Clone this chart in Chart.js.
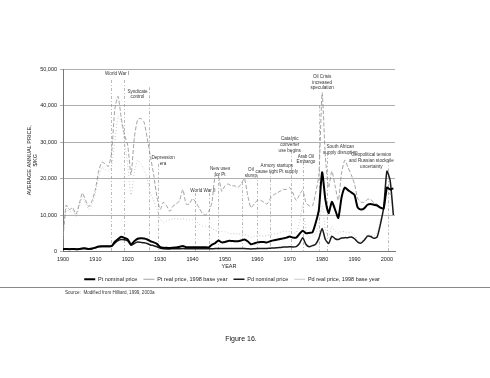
<!DOCTYPE html>
<html>
<head>
<meta charset="utf-8">
<script src="https://cdn.jsdelivr.net/npm/chart.js@4/dist/chart.umd.min.js"></script>
<style>
  html, body { margin: 0; padding: 0; background: #fff; }
  #wrap { position: absolute; left: 0; top: 0; width: 490px; height: 378px; }
</style>
</head>
<body>
<div id="wrap"><canvas id="priceChart" width="490" height="378"></canvas></div>
<script>
// Years on the x axis
const years = [
  1900, 1901, 1902, 1903, 1904, 1905, 1906, 1907, 1908, 1909,
  1910, 1911, 1912, 1913, 1914, 1915, 1916, 1917, 1918, 1919,
  1920, 1921, 1922, 1923, 1924, 1925, 1926, 1927, 1928, 1929,
  1930, 1931, 1932, 1933, 1934, 1935, 1936, 1937, 1938, 1939,
  1940, 1941, 1942, 1943, 1944, 1945, 1946, 1947, 1948, 1949,
  1950, 1951, 1952, 1953, 1954, 1955, 1956, 1957, 1958, 1959,
  1960, 1961, 1962, 1963, 1964, 1965, 1966, 1967, 1968, 1969,
  1970, 1971, 1972, 1973, 1974, 1975, 1976, 1977, 1978, 1979,
  1980, 1981, 1982, 1983, 1984, 1985, 1986, 1987, 1988, 1989,
  1990, 1991, 1992, 1993, 1994, 1995, 1996, 1997, 1998, 1999,
  2000, 2001, 2002
];

// $/kg
const ptNominal = [
  650, 660, 640, 700, 650, 700, 850, 850, 700, 800,
  1050, 1400, 1450, 1450, 1450, 1500, 2700, 3400, 4050, 3700,
  3300, 1900, 2800, 3500, 3600, 3550, 3300, 2800, 2500, 2100,
  1200, 1000, 1000, 950, 1050, 1100, 1300, 1500, 1150, 1150,
  1150, 1150, 1150, 1150, 1150, 1150, 1900, 2300, 3000, 2500,
  2600, 2900, 2900, 2800, 2800, 3000, 3300, 2800, 2000, 2200,
  2500, 2600, 2600, 2500, 2800, 3050, 3200, 3400, 3600, 3800,
  4100, 3800, 3800, 4800, 5700, 5000, 5100, 5200, 7800, 11500,
  21700, 14300, 10500, 13600, 11500, 9200, 14800, 17500, 16800, 16200,
  15500, 12000, 11500, 11800, 12800, 13000, 12800, 12600, 12000, 11800,
  17500, 17000, 17300
];

const ptReal = [
  4000, 12700, 11500, 12000, 10200, 13000, 16000, 14000, 12300, 14000,
  17000, 22000, 24500, 24000, 23300, 27000, 39000, 42500, 36500, 32000,
  29000, 21000, 31000, 36000, 36500, 35500, 31000, 26000, 21000, 15000,
  11500, 13500, 12500, 11000, 12500, 13000, 14000, 17000, 13000, 13000,
  14500, 13500, 12000, 10500, 10000, 11000, 13500, 21000, 20500, 16500,
  18000, 18500, 18000, 18000, 17500, 18500, 20000, 15500, 12000, 13000,
  14000, 14000, 13500, 13000, 14500, 15500, 16000, 16500, 17000, 17000,
  17500, 16000, 14000, 15500, 16800, 13500, 12500, 12500, 16000, 21000,
  43500, 26000, 17500, 22000, 18000, 14000, 21500, 25000, 23000, 21000,
  18500, 14500, 13500, 13500, 14300, 14300, 13300, 13000, 12000, 11800,
  16600, 15700, 15500
];

const pdNominal = [
  600, 620, 600, 650, 620, 650, 800, 800, 650, 750,
  1000, 1300, 1400, 1400, 1400, 1450, 2300, 3000, 3300, 3200,
  2900, 1700, 2200, 2600, 2500, 2400, 2200, 1800, 1600, 1300,
  900, 750, 700, 700, 750, 750, 750, 800, 750, 750,
  750, 750, 750, 750, 750, 750, 750, 800, 800, 800,
  800, 800, 800, 800, 800, 800, 800, 750, 700, 750,
  800, 800, 800, 850, 900, 950, 1000, 1100, 1200, 1250,
  1300, 1250, 1350, 2200, 3800, 2000, 1300, 1600, 2000, 3600,
  6300, 3300, 2200, 4200, 3500, 3300, 3700, 3800, 3800, 4000,
  3500, 2600, 2300, 3100, 4200, 4100, 3600, 4000, 7500, 12000,
  22000, 19500, 10000
];

const pdReal = [
  3500, 11800, 10800, 11200, 9600, 12200, 15000, 13200, 11500, 13000,
  16000, 20500, 23000, 22500, 22000, 23500, 30000, 37000, 35500, 30000,
  23500, 15500, 21500, 25000, 24000, 22500, 20000, 16000, 14000, 11500,
  9000, 8000, 8300, 8700, 9000, 9000, 8800, 9000, 8700, 8800,
  8700, 8300, 7500, 7000, 6900, 6800, 6300, 5800, 5400, 5500,
  5400, 5000, 4900, 4900, 4800, 4800, 4700, 4300, 3900, 4100,
  4400, 4300, 4200, 4400, 4600, 4800, 4900, 5200, 5500, 5500,
  5500, 5000, 5200, 7900, 12500, 6000, 3700, 4300, 5000, 8000,
  12500, 6000, 3700, 6900, 5500, 5000, 5500, 5400, 5200, 5300,
  4400, 3100, 2700, 3500, 4600, 4400, 4200, 5100, 8500, 11300,
  20800, 17900, 9500
];

const yTicks = [0, 10000, 20000, 30000, 40000, 50000];

// Event marker lines (year, top of the line in $/kg)
const eventLineYears = [1914.8, 1918.8, 1926.6, 1929.4, 1940.7, 1945.0, 1947.9, 1955.2, 1959.9, 1963.9, 1970.4, 1974.1, 1979.0, 1981.6, 2000.3];
const eventLineTops = [47000, 47000, 45000, 24000, 16000, 16000, 21000, 19000, 21000, 22000, 27500, 24500, 40000, 27000, 25000];

// Event notes
const noteText = [
  ['World War I'],
  ['Syndicate', 'control'],
  ['Depression', 'era'],
  ['World War II'],
  ['New uses', 'for Pt'],
  ['Oil', 'slump'],
  ['Armory startups', 'cause tight Pt supply'],
  ['Catalytic', 'converter', 'use begins'],
  ['Arab Oil', 'Embargo'],
  ['Oil Crisis', 'increased', 'speculation'],
  ['South African', 'supply disruption'],
  ['Geopolitical tension', 'and Russian stockpile', 'uncertainty']
];
const noteYears = [1916.7, 1923.0, 1930.9, 1943.2, 1948.5, 1958.0, 1966.0, 1970.0, 1975.0, 1980.0, 1985.6, 1995.2];
const noteValues = [48600, 43800, 25700, 16700, 22700, 22400, 23500, 30800, 26000, 47800, 28700, 26400];

const FONT = "'Liberation Sans', Arial, sans-serif";

function toPoints(values) {
  return values.map((v, i) => ({ x: years[i], y: v }));
}

const eventPlugin = {
  id: 'eventNotes',
  beforeDatasetsDraw(chart) {
    const ctx = chart.ctx;
    const xs = chart.scales.x;
    const ys = chart.scales.y;
    ctx.save();
    ctx.strokeStyle = '#9a9a9a';
    ctx.lineWidth = 0.7;
    ctx.setLineDash([3, 2, 1, 2]);
    eventLineYears.forEach((yr, i) => {
      const px = Math.round(xs.getPixelForValue(yr)) + 0.5;
      ctx.beginPath();
      ctx.moveTo(px, ys.getPixelForValue(eventLineTops[i]));
      ctx.lineTo(px, ys.getPixelForValue(0));
      ctx.stroke();
    });
    ctx.setLineDash([]);
    ctx.fillStyle = '#333';
    ctx.font = '4.6px ' + FONT;
    ctx.textAlign = 'center';
    ctx.textBaseline = 'middle';
    noteText.forEach((lines, i) => {
      const px = xs.getPixelForValue(noteYears[i]);
      const py = ys.getPixelForValue(noteValues[i]);
      lines.forEach((t, j) => ctx.fillText(t, px, py + j * 5.6));
    });
    ctx.restore();
  },
  afterDraw(chart) {
    const ctx = chart.ctx;
    ctx.save();
    // rule under the legend
    ctx.strokeStyle = '#8a8a8a';
    ctx.lineWidth = 1;
    ctx.beginPath();
    ctx.moveTo(0, 287.5);
    ctx.lineTo(490, 287.5);
    ctx.stroke();
    ctx.fillStyle = '#333';
    ctx.font = '4.6px ' + FONT;
    ctx.textAlign = 'left';
    ctx.textBaseline = 'middle';
    ctx.fillText('Source:  Modified from Hilliard, 1999, 2003a', 65, 293);
    ctx.font = '7px ' + FONT;
    ctx.textAlign = 'center';
    ctx.fillStyle = '#111';
    ctx.fillText('Figure 16.', 241, 339);
    ctx.restore();
  }
};

const ctx = document.getElementById('priceChart').getContext('2d');
const priceChart = new Chart(ctx, {
  type: 'line',
  data: {
    datasets: [
      { label: 'Pt nominal price', data: toPoints(ptNominal), borderColor: '#000', borderWidth: 2, yAxisID: 'y' },
      { label: 'Pt real price, 1998 base year', data: toPoints(ptReal), borderColor: '#8c8c8c', borderWidth: 0.8, borderDash: [4, 2], yAxisID: 'y' },
      { label: 'Pd nominal price', data: toPoints(pdNominal), borderColor: '#1a1a1a', borderWidth: 1.5, yAxisID: 'y' },
      { label: 'Pd real price, 1998 base year', data: toPoints(pdReal), borderColor: '#b4b4b4', borderWidth: 0.7, borderDash: [1, 2], yAxisID: 'y' }
    ]
  },
  options: {
    responsive: false,
    animation: false,
    parsing: false,
    elements: {
      point: { radius: 0 },
      line: { tension: 0.2, fill: false }
    },
    layout: { padding: { top: 69, left: 24, right: 50, bottom: 86 } },
    scales: {
      x: {
        type: 'linear',
        min: 1900,
        max: 2002.5,
        afterFit(scale) { scale.height = 19; },
        ticks: {
          stepSize: 10,
          includeBounds: false,
          maxRotation: 0,
          autoSkip: false,
          padding: 2,
          color: '#222',
          font: { family: FONT, size: 5.5 },
          callback: v => String(v)
        },
        grid: { display: false, drawTicks: true, tickLength: 3, color: '#777' },
        border: { color: '#777', width: 1 },
        title: { display: true, text: 'YEAR', color: '#222', font: { family: FONT, size: 5.5 }, padding: 1 }
      },
      y: {
        min: 0,
        max: 50000,
        afterFit(scale) { scale.width = 39; },
        afterBuildTicks(scale) { scale.ticks = yTicks.map(v => ({ value: v })); },
        ticks: {
          padding: 3,
          color: '#222',
          font: { family: FONT, size: 5.5 },
          callback: v => v.toLocaleString('en-US')
        },
        grid: { color: '#9a9a9a', lineWidth: 0.8, tickLength: 3 },
        border: { color: '#777', width: 1 },
        title: {
          display: true,
          text: ['AVERAGE ANNUAL PRICE,', '$/KG'],
          color: '#222',
          font: { family: FONT, size: 5.5 },
          padding: 2
        }
      },
      // empty right-hand axis that keeps the plot narrow while the legend stays centred on the page
      yRight: {
        position: 'right',
        min: 0,
        max: 50000,
        afterFit(scale) { scale.width = 45; },
        ticks: { display: false },
        grid: { display: false },
        border: { display: false }
      }
    },
    plugins: {
      legend: {
        position: 'bottom',
        labels: {
          usePointStyle: true,
          pointStyle: 'line',
          pointStyleWidth: 11,
          boxHeight: 5.5,
          padding: 6,
          color: '#222',
          font: { family: FONT, size: 5.5 }
        }
      },
      tooltip: { enabled: false }
    }
  },
  plugins: [eventPlugin]
});
</script>
</body>
</html>
